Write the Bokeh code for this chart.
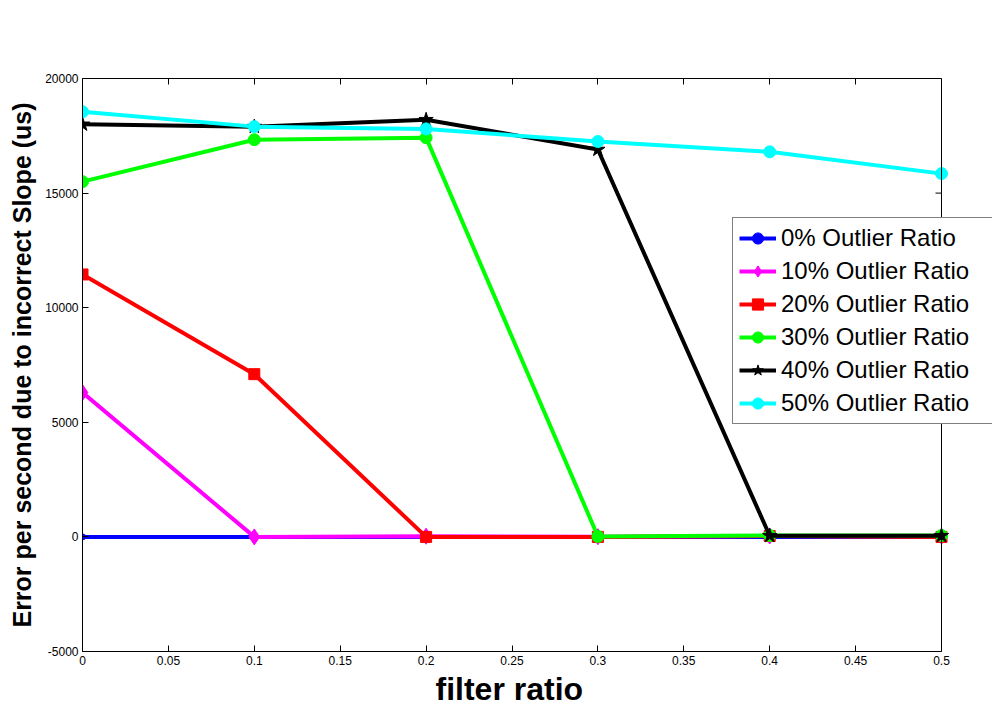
import math
from bokeh.plotting import figure
from bokeh.models import (Range1d, LinearAxis, FixedTicker, PrintfTickFormatter,
                          Legend, LegendItem, Span, Title)
from bokeh.embed import file_html
from bokeh.resources import INLINE

# filter ratio vs. error per second (us) caused by a wrong slope estimate
filter_ratio = [0.0, 0.1, 0.2, 0.3, 0.4, 0.5]
err_0 = [0, 0, 0, 0, 0, 0]
err_10 = [6300, 0, 30, 10, 40, 30]
err_20 = [11450, 7100, 0, 0, 40, 0]
err_30 = [15500, 17330, 17420, 20, 60, 60]
err_40 = [18000, 17900, 18200, 16900, 50, 50]
err_50 = [18550, 17900, 17800, 17250, 16800, 15850]

series_labels = ["0% Outlier Ratio", "10% Outlier Ratio", "20% Outlier Ratio",
                 "30% Outlier Ratio", "40% Outlier Ratio", "50% Outlier Ratio"]
x_ticks = [0, 0.05, 0.1, 0.15, 0.2, 0.25, 0.3, 0.35, 0.4, 0.45, 0.5]
y_ticks = [-5000, 0, 5000, 10000, 15000, 20000]
x_min, x_max = 0.0, 0.5
y_min, y_max = -5000, 20000

FONT = "Liberation Sans"

# The drawing area runs to the right edge of the page so that the legend,
# which sticks out past the axes box, is not clipped; the box itself is
# drawn with bounded axes plus a vertical rule at x_max.
AXES_W = 859      # px between x_min and x_max
EXTRA_W = 51      # px of frame to the right of x_max
x_end = x_max + (x_max - x_min) * EXTRA_W / AXES_W

p = figure(width=992, height=728, output_backend="svg", toolbar_location=None,
           x_range=Range1d(x_min, x_end), y_range=Range1d(y_min, y_max),
           min_border_left=82, min_border_right=0, min_border_top=78, min_border_bottom=0)
p.background_fill_color = "white"
p.border_fill_color = "white"
p.outline_line_color = None
p.grid.visible = False


def style_axis(ax, labels=True):
    ax.axis_line_color = "black"
    ax.axis_line_width = 1
    ax.major_tick_in = 6
    ax.major_tick_out = 0
    ax.minor_tick_line_color = None
    ax.major_tick_line_color = "black"
    ax.major_label_text_font = FONT
    ax.major_label_text_font_size = "12px"
    ax.major_label_text_color = "black" if labels else None
    ax.major_label_standoff = 4


p.xaxis.ticker = FixedTicker(ticks=x_ticks)
p.xaxis.formatter = PrintfTickFormatter(format="%g")
p.xaxis.bounds = (x_min, x_max)
p.yaxis.ticker = FixedTicker(ticks=y_ticks)
p.yaxis.formatter = PrintfTickFormatter(format="%d")
style_axis(p.xaxis[0])
style_axis(p.yaxis[0])

p.yaxis.axis_label = "Error per second due to incorrect Slope (us)"
p.yaxis.axis_label_text_font = FONT
p.yaxis.axis_label_text_font_size = "25px"
p.yaxis.axis_label_text_font_style = "bold"
p.yaxis.axis_label_text_color = "black"
p.yaxis.axis_label_standoff = 6

# x-axis title, centred under the axes box rather than the wider frame
x_title = Title(text="filter ratio", align="left", offset=353,
                text_font=FONT, text_font_size="32px", text_font_style="bold",
                text_color="black", standoff=2)
p.add_layout(x_title, "below")
p.min_border_bottom = 77

top_axis = LinearAxis(ticker=FixedTicker(ticks=x_ticks), bounds=(x_min, x_max))
style_axis(top_axis, labels=False)
p.add_layout(top_axis, "above")

# right edge of the axes box with inward ticks
p.add_layout(Span(location=x_max, dimension="height", line_color="black", line_width=1))
p.ray(x=[x_max] * len(y_ticks), y=y_ticks, length=6, length_units="screen",
      angle=math.pi, line_color="black", line_width=1)

series = [
    (err_0, "#0000ff", "circle", 6),
    (err_10, "#ff00ff", "diamond", 16),
    (err_20, "#ff0000", "square", 11),
    (err_30, "#00ff00", "circle", 12),
    (err_40, "#000000", "star", 15),
    (err_50, "#00ffff", "circle", 12),
]

items = []
for (vals, color, marker, size), label in zip(series, series_labels):
    ln = p.line(filter_ratio, vals, line_color=color, line_width=4)
    mk = p.scatter(filter_ratio, vals, marker=marker, size=size,
                   fill_color=color, line_color=color)
    items.append(LegendItem(label=label, renderers=[ln, mk]))

legend = Legend(items=items, location=(650, 227), border_line_color="black",
                border_line_width=1, background_fill_color="white", background_fill_alpha=1,
                label_text_font=FONT, label_text_font_size="24px", label_text_color="black",
                glyph_width=37, glyph_height=28, label_height=28, label_width=215,
                spacing=5, padding=6, margin=0, label_standoff=5)
p.add_layout(legend, "center")

open("out.html", "w").write(file_html(p, INLINE))
